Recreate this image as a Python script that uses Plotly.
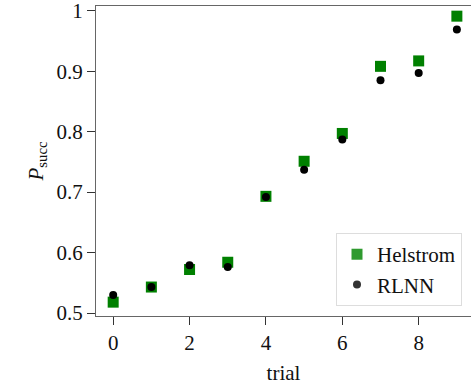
import plotly.graph_objects as go

trials = [0, 1, 2, 3, 4, 5, 6, 7, 8, 9]
helstrom = [0.518, 0.543, 0.572, 0.584, 0.693, 0.751, 0.797, 0.908, 0.917, 0.991]
rlnn = [0.530, 0.543, 0.579, 0.576, 0.692, 0.737, 0.787, 0.885, 0.897, 0.969]
x_ticks = [0, 2, 4, 6, 8]
y_ticks = [0.5, 0.6, 0.7, 0.8, 0.9, 1.0]
y_tick_text = ["0.5", "0.6", "0.7", "0.8", "0.9", "1"]

FONT = "Liberation Serif"
FS = 21

fig = go.Figure()
fig.add_trace(go.Scatter(
    x=trials, y=helstrom, mode="markers", name="Helstrom", showlegend=False,
    marker=dict(symbol="square", size=11, color="#008000", line=dict(width=0)),
))
fig.add_trace(go.Scatter(
    x=trials, y=rlnn, mode="markers", name="RLNN", showlegend=False,
    marker=dict(symbol="circle", size=8, color="#000000", line=dict(width=0)),
))
# legend entries (slightly lighter, as in the reference legend)
fig.add_trace(go.Scatter(
    x=[None], y=[None], mode="markers", name="Helstrom",
    marker=dict(symbol="square", size=11, color="#2f9a2f", line=dict(width=0)),
))
fig.add_trace(go.Scatter(
    x=[None], y=[None], mode="markers", name="RLNN",
    marker=dict(symbol="circle", size=8, color="#333333", line=dict(width=0)),
))

axis_common = dict(
    showgrid=False, zeroline=False, showline=True, linecolor="#666666", linewidth=1.3,
    ticks="outside", ticklen=8, tickwidth=1.2, tickcolor="#333333",
    tickfont=dict(family=FONT, size=FS, color="#111111"),
    automargin=False, ticklabeloverflow="allow",
)

fig.update_layout(
    width=471, height=387,
    margin=dict(l=96, r=0, t=6, b=71),
    paper_bgcolor="white", plot_bgcolor="white",
    font=dict(family=FONT, size=FS, color="#111111"),
    showlegend=True,
    legend=dict(
        x=(462 - 96) / (471 - 96), y=0.032, xanchor="right", yanchor="bottom",
        bordercolor="#dddddd", borderwidth=1, bgcolor="white",
        font=dict(family=FONT, size=FS, color="#111111"),
        itemwidth=30, tracegroupgap=0,
    ),
    xaxis=dict(
        range=[-0.45, 9.37], tickvals=x_ticks, mirror=True,
        title=dict(text="trial", font=dict(family=FONT, size=FS), standoff=10),
        **axis_common,
    ),
    yaxis=dict(
        range=[0.4951, 1.0078], tickvals=y_ticks, ticktext=y_tick_text,
        title=dict(text="<i>P</i><sub>succ</sub>", font=dict(family=FONT, size=FS), standoff=7),
        **axis_common,
    ),
)

fig.write_html("out.html", config={"displayModeBar": False})
